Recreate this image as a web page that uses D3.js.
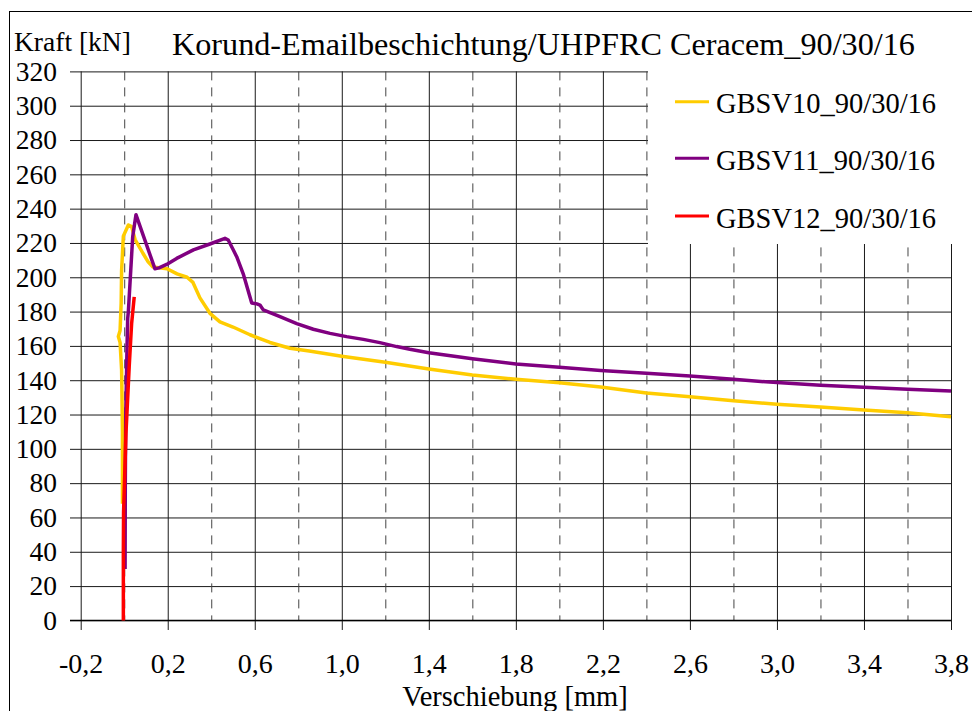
<!DOCTYPE html>
<html><head><meta charset="utf-8">
<script src="https://cdn.jsdelivr.net/npm/d3@7/dist/d3.min.js"></script>
<style>
body{margin:0;background:#fff;}
svg{display:block;}
svg text{font-family:"Liberation Serif","Times New Roman",Times,serif !important;fill:#000;}
</style></head>
<body><svg id="chart" width="972" height="711"></svg>
<script>
// ---- data ----
const title = "Korund-Emailbeschichtung/UHPFRC Ceracem_90/30/16";
const yAxisTitle = "Kraft [kN]";
const xAxisTitle = "Verschiebung [mm]";
const seriesNames = ["GBSV10_90/30/16","GBSV11_90/30/16","GBSV12_90/30/16"];
const seriesColors = ["#FFCC00","#800080","#FF0000"];

const xTicks = [-0.2,0.2,0.6,1.0,1.4,1.8,2.2,2.6,3.0,3.4,3.8];
const xTickLabels = ["-0,2","0,2","0,6","1,0","1,4","1,8","2,2","2,6","3,0","3,4","3,8"];
const xMinor = [0.0,0.4,0.8,1.2,1.6,2.0,2.4,2.8,3.2,3.6];
const yTicks = [0,20,40,60,80,100,120,140,160,180,200,220,240,260,280,300,320];

const gbsv10X = [-0.008,-0.008,-0.012,-0.019,-0.027,-0.019,-0.014,-0.012,-0.004,0.019,0.034,0.05,0.086,0.11,0.132,0.197,0.243,0.289,0.316,0.348,0.394,0.44,0.5,0.578,0.67,0.762,0.85,1.0,1.2,1.4,1.6,1.8,2.0,2.19,2.4,2.6,2.8,3.0,3.2,3.4,3.6,3.8];
const gbsv10Y = [68,110,146,162,165.5,169,185,204,224,230.5,229.5,222,214,209,206,205,202,200,197,188,179,174,171,166.5,162,158.6,157,154,150.5,146.5,143,140.5,138.5,136,132.6,130.3,128,126,124.4,122.6,121,118.7];

const gbsv11X = [0.004,0.005,0.007,0.011,0.013,0.016,0.019,0.03,0.039,0.054,0.141,0.16,0.195,0.241,0.318,0.394,0.463,0.478,0.501,0.517,0.547,0.586,0.61,0.624,0.639,0.716,0.793,0.869,0.946,1.022,1.099,1.175,1.252,1.313,1.4,1.6,1.8,2.0,2.19,2.4,2.6,2.8,3.0,3.2,3.4,3.6,3.8];
const gbsv11Y = [30,80,120,146,160,176,180,204,223.6,236.5,205,205.5,207.5,211,216,219.4,222.7,221.7,216,212,202,185,184.5,183.8,181,177,173,169.7,167.3,165.4,163.8,161.9,159.6,158,156,152.5,149.5,147.5,145.6,144,142.5,140.5,138.6,137,135.9,134.7,133.7];

const gbsv12X = [-0.004,-0.004,-0.003,0.008,0.023,0.034,0.046];
const gbsv12Y = [0,40,63,109,148,173,188.6];

// ---- drawing ----
const FONT = '"Liberation Serif","Times New Roman",Times,serif';
const svg = d3.select("#chart");
const x = d3.scaleLinear().domain([-0.2,3.8]).range([80.7,951]);
const y = d3.scaleLinear().domain([0,320]).range([620.4,71.4]);

// outer frame
svg.append("rect").attr("x",9.5).attr("y",11.5).attr("width",1000).attr("height",1000)
  .attr("fill","none").attr("stroke","#000").attr("stroke-width",1);

// horizontal gridlines + y ticks
const yAxis = d3.axisLeft(y).tickValues(yTicks).tickSize(951-70).tickPadding(13).tickFormat(d=>d);
const gy = svg.append("g").attr("transform","translate(951,0)").call(yAxis).attr("font-family",null);
gy.select(".domain").remove();
gy.selectAll(".tick line").attr("stroke","#1a1a1a").attr("stroke-width",1);
gy.selectAll(".tick text").style("font-family",FONT).style("font-size","27.5px").attr("fill","#000");

// dashed minor verticals
const xMinorAxis = d3.axisBottom(x).tickValues(xMinor).tickSize(y(0)-y(320)).tickFormat("");
const gxm = svg.append("g").attr("transform",`translate(0,${y(320)})`).call(xMinorAxis);
gxm.select(".domain").remove();
gxm.selectAll(".tick line").attr("stroke","#444").attr("stroke-width",1).attr("stroke-dasharray","9,7");

// solid verticals + x ticks
const xAxis = d3.axisBottom(x).tickValues(xTicks).tickSize(630-y(320)).tickPadding(23)
  .tickFormat((d,i)=>xTickLabels[i]);
const gx = svg.append("g").attr("transform",`translate(0,${y(320)})`).call(xAxis).attr("font-family",null);
gx.select(".domain").remove();
gx.selectAll(".tick line").attr("stroke","#1a1a1a").attr("stroke-width",1);
gx.selectAll(".tick text").style("font-family",FONT).style("font-size","28px").attr("fill","#000");

// axis base line
svg.append("line").attr("x1",70).attr("x2",951).attr("y1",y(0)).attr("y2",y(0)).attr("stroke","#000").attr("stroke-width",1.3);

// legend background
svg.append("rect").attr("x",648).attr("y",60).attr("width",330).attr("height",184).attr("fill","#fff");

// series
const line = d3.line().x(d=>x(d[0])).y(d=>y(d[1]));
const series = [
  d3.zip(gbsv10X,gbsv10Y),
  d3.zip(gbsv11X,gbsv11Y),
  d3.zip(gbsv12X,gbsv12Y)
];
series.forEach((s,i)=>{
  svg.append("path").datum(s).attr("d",line).attr("fill","none")
    .attr("stroke",seriesColors[i]).attr("stroke-width",3.5)
    .attr("stroke-linejoin","round").attr("stroke-linecap","butt");
});

// legend
const legY = [101.7,158.3,216];
seriesNames.forEach((n,i)=>{
  svg.append("line").attr("x1",675).attr("x2",709).attr("y1",legY[i]).attr("y2",legY[i])
    .attr("stroke",seriesColors[i]).attr("stroke-width",3);
  svg.append("text").attr("x",716).attr("y",legY[i]+11.5).style("font-family",FONT).style("font-size","28.5px").text(n);
});

// titles
svg.append("text").attr("x",172).attr("y",55).style("font-family",FONT).style("font-size","32.2px").text(title);
svg.append("text").attr("x",14).attr("y",51).style("font-family",FONT).style("font-size","27.5px").text(yAxisTitle);
svg.append("text").attr("x",515).attr("y",705.5).attr("text-anchor","middle").style("font-family",FONT).style("font-size","28.5px").text(xAxisTitle);
</script></body></html>
